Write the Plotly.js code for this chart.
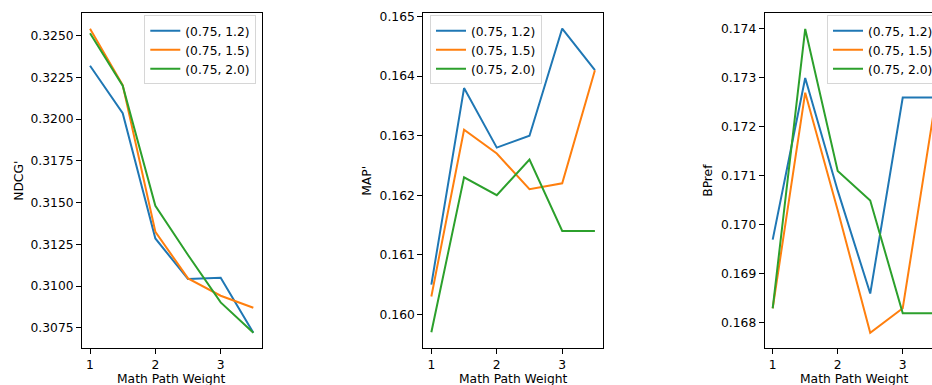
<!DOCTYPE html>
<html>
<head>
<meta charset="utf-8">
<script src="https://cdn.plot.ly/plotly-3.0.1.min.js"></script>
<style>html,body{margin:0;padding:0;background:#fff;}#chart{width:932px;height:385px;}</style>
</head>
<body>
<div id="chart"></div>
<script>
// Data
const weights = [1, 1.5, 2, 2.5, 3, 3.5];
const seriesNames = ["(0.75, 1.2)", "(0.75, 1.5)", "(0.75, 2.0)"];

const ndcg_12 = [0.3232, 0.32035, 0.31285, 0.31042, 0.3105, 0.3072];
const ndcg_15 = [0.32542, 0.32204, 0.31325, 0.31046, 0.30942, 0.3087];
const ndcg_20 = [0.32514, 0.3220, 0.31481, 0.31186, 0.30902, 0.3072];

const map_12 = [0.1605, 0.1638, 0.1628, 0.1630, 0.1648, 0.1641];
const map_15 = [0.1603, 0.1631, 0.1627, 0.1621, 0.1622, 0.1641];
const map_20 = [0.1597, 0.1623, 0.1620, 0.1626, 0.1614, 0.1614];

const bpref_12 = [0.1697, 0.1730, 0.1707, 0.1686, 0.1726, 0.1726];
const bpref_15 = [0.1683, 0.1727, 0.1703, 0.1678, 0.1683, 0.1725];
const bpref_20 = [0.1683, 0.1740, 0.1711, 0.1705, 0.1682, 0.1682];

const yTitles = ["NDCG'", "MAP'", "BPref"];
const xTitle = "Math Path Weight";

const colors = ["#1f77b4", "#ff7f0e", "#2ca02c"];
const W = 932, H = 385;
const FONT = "DejaVu Sans, sans-serif";
const FS = 12.3;

const groups = [
  [ndcg_12, ndcg_15, ndcg_20],
  [map_12, map_15, map_20],
  [bpref_12, bpref_15, bpref_20]
];

const traces = [];
groups.forEach((g, gi) => {
  g.forEach((vals, si) => {
    traces.push({
      x: weights, y: vals, type: "scatter", mode: "lines",
      name: seriesNames[si],
      line: {color: colors[si], width: 2},
      xaxis: gi === 0 ? "x" : "x" + (gi + 1),
      yaxis: gi === 0 ? "y" : "y" + (gi + 1),
      legend: gi === 0 ? "legend" : "legend" + (gi + 1),
      showlegend: true
    });
  });
});

const px = v => v / W;
const py = v => 1 - v / H;
const ydom = [py(348.3), py(13.3)];

const xdoms = [[px(82), px(261.7)], [px(423.3), px(603.3)], [px(764.7), 1]];
const xranges = [[0.877, 3.628], [0.877, 3.628], [0.877, 3.45]];
const yranges = [[0.30627, 0.32634], [0.159429, 0.165056], [0.167483, 0.17432]];
const ydticks = [0.0025, 0.001, 0.001];
const yfmts = [".4f", ".3f", ".3f"];

const axisBase = {
  showline: true, linecolor: "#000", linewidth: 1,
  ticks: "outside", ticklen: 5, tickwidth: 1, tickcolor: "#000",
  showgrid: false, zeroline: false,
  tickfont: {family: FONT, size: FS, color: "#000"},
  automargin: false, fixedrange: true
};

const layout = {
  width: W, height: H,
  margin: {l: 0, r: 0, t: 0, b: 0, pad: 0, autoexpand: false},
  paper_bgcolor: "#fff", plot_bgcolor: "#fff",
  font: {family: FONT, size: FS, color: "#000"},
  showlegend: true,
  annotations: []
};

const legendX = [px(144.3), px(430), px(827)];
for (let i = 0; i < 3; i++) {
  const sx = i === 0 ? "" : String(i + 1);
  layout["xaxis" + sx] = Object.assign({}, axisBase, {
    domain: xdoms[i], range: xranges[i], tickvals: [1, 2, 3], ticktext: ["1", "2", "3"],
    anchor: "y" + sx, mirror: true
  });
  layout["yaxis" + sx] = Object.assign({}, axisBase, {
    domain: ydom, range: yranges[i], dtick: ydticks[i], tick0: 0, tickformat: yfmts[i],
    anchor: "x" + sx, mirror: i === 2 ? false : true
  });
  layout["legend" + sx] = {
    x: legendX[i], y: py(15.3), xanchor: "left", yanchor: "top",
    xref: "paper", yref: "paper",
    bgcolor: "rgba(255,255,255,0.8)", bordercolor: "#d6d6d6", borderwidth: 1,
    font: {family: FONT, size: FS, color: "#000"},
    tracegroupgap: 0
  };
  const xc = i === 2 ? (764.7 + 178.75 / 2) / W : (xdoms[i][0] + xdoms[i][1]) / 2;
  layout.annotations.push({
    text: xTitle, xref: "paper", yref: "paper", x: xc, y: py(379),
    xanchor: "center", yanchor: "middle", showarrow: false,
    font: {family: FONT, size: FS, color: "#000"}
  });
  const yx = [19, 367, 708][i];
  layout.annotations.push({
    text: yTitles[i], xref: "paper", yref: "paper", x: px(yx), y: py(180.8),
    xanchor: "center", yanchor: "middle", showarrow: false, textangle: -90,
    font: {family: FONT, size: FS, color: "#000"}
  });
}

Plotly.newPlot("chart", traces, layout, {staticPlot: true, displayModeBar: false});
</script>
</body>
</html>
